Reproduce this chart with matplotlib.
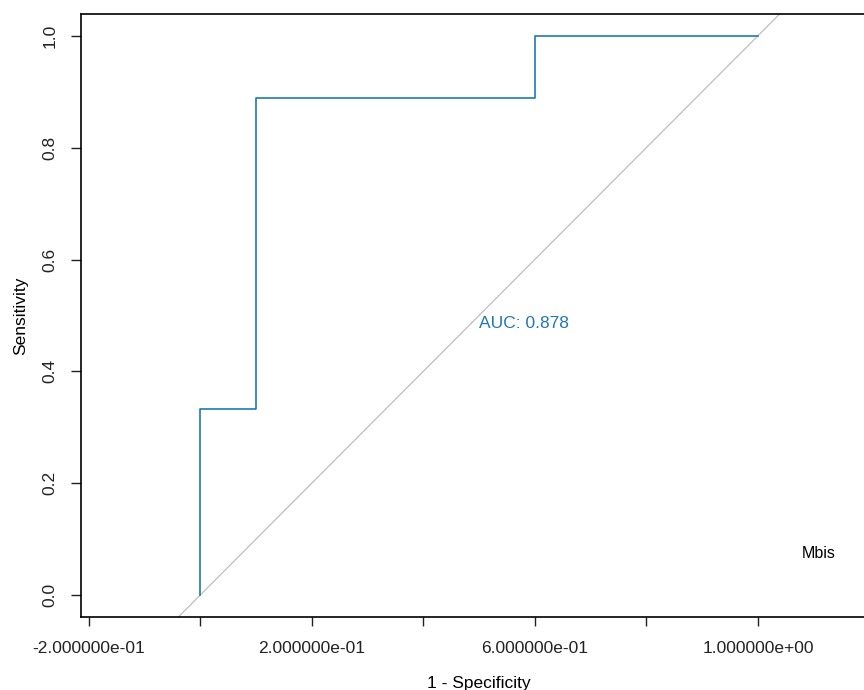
import numpy as np
import matplotlib
matplotlib.use("Agg")
import matplotlib.pyplot as plt

# ROC-Kurve (1 - Spezifität vs. Sensitivität)
fpr = [0.0, 0.0, 0.1, 0.1, 0.6, 0.6, 1.0]
tpr = [0.0, 0.333, 0.333, 0.889, 0.889, 1.0, 1.0]
auc_text = "AUC: 0.878"
marker_name = "Mbis"

x_ticks = [-0.2, 0.0, 0.2, 0.4, 0.6, 0.8, 1.0, 1.2]
x_labels = ["-2.000000e-01", "", "2.000000e-01", "", "6.000000e-01", "", "1.000000e+00", ""]
y_ticks = [0.0, 0.2, 0.4, 0.6, 0.8, 1.0]
y_labels = ["0.0", "0.2", "0.4", "0.6", "0.8", "1.0"]

plt.rcParams['font.family'] = ['Liberation Sans', 'DejaVu Sans']
BLUE = '#1F78B4'

fig = plt.figure(figsize=(8.64, 6.9), dpi=100)
ax = fig.add_axes([81 / 864, 73 / 690, 796 / 864, 603 / 690])

# Diagonale (Zufallslinie)
ax.axline((0, 0), (1, 1), color='#BEBEBE', linewidth=0.9, zorder=1)
ax.plot(fpr, tpr, color=BLUE, linewidth=1.2, zorder=2)

ax.text(0.5, 0.486, auc_text, color=BLUE, fontsize=12.5, ha='left', va='center')
ax.text(1.109, 0.075, marker_name, color='black', fontsize=11.5, ha='center', va='center')

ax.set_xlim(-0.2135, 1.2135)
ax.set_ylim(-0.039, 1.039)

ax.set_xticks(x_ticks)
ax.set_xticklabels(x_labels, fontsize=12.5)
ax.set_yticks(y_ticks)
ax.set_yticklabels(y_labels, fontsize=12.5, rotation=90, va='center')

ax.tick_params(axis='x', direction='out', length=6.5, width=1.0, pad=11, colors='#222222')
ax.tick_params(axis='y', direction='out', length=7, width=1.0, pad=10, colors='#222222')

for side in ['left', 'top', 'bottom', 'right']:
    ax.spines[side].set_linewidth(1.2)
    ax.spines[side].set_color('black')

ax.set_xlabel("1 - Specificity", fontsize=12.5, labelpad=14)
ax.set_ylabel("Sensitivity", fontsize=12.5, labelpad=10)

fig.savefig("out.png", dpi=100)
